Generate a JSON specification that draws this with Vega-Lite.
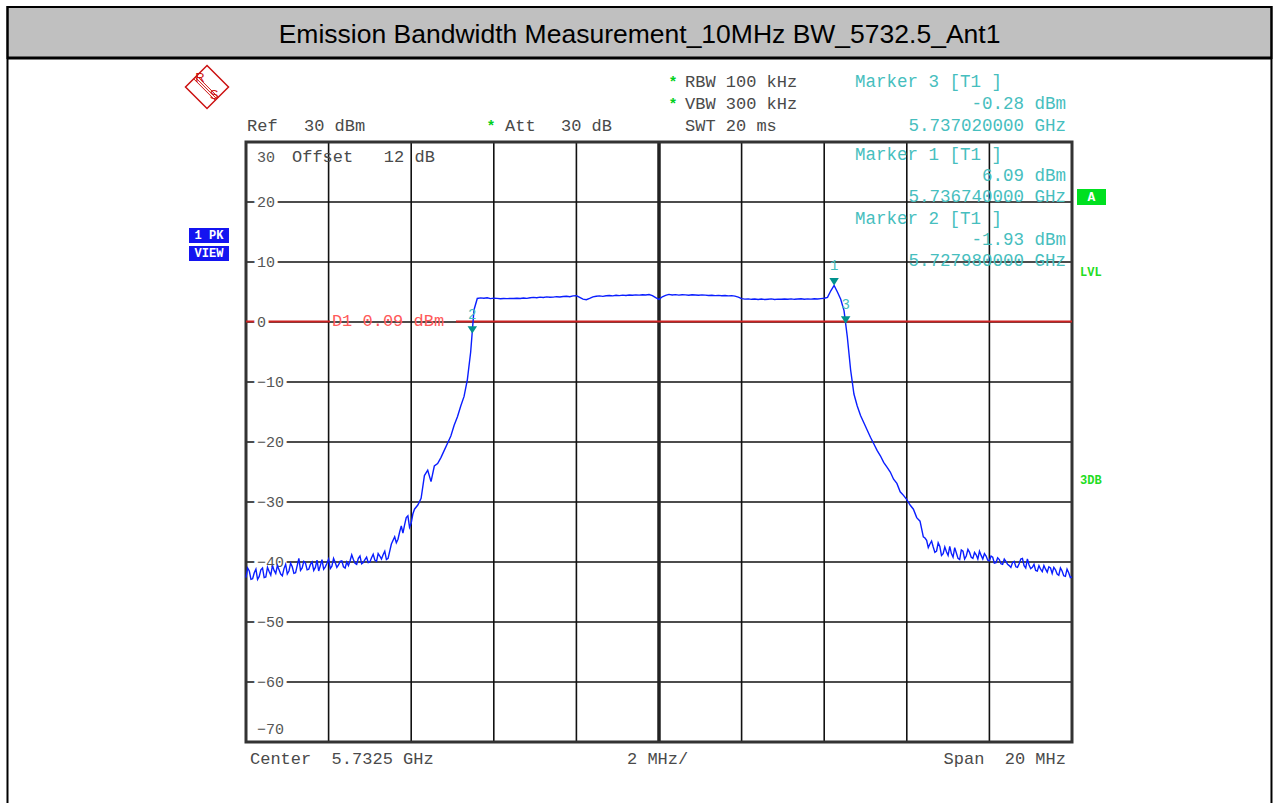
{
  "$schema": "https://vega.github.io/schema/vega-lite/v6.json",
  "width": 826,
  "height": 600,
  "autosize": {"type": "none"},
  "padding": {"left": 246, "top": 142, "right": 207, "bottom": 61},
  "background": "white",
  "config": {"view": {"stroke": null}, "axis": {"disable": true}, "font": "Liberation Mono"},
  "datasets": {
    "one": [{}],
    "trace": [
      {"f":5722.50,"p":-42.6},{"f":5722.58,"p":-41.5},{"f":5722.66,"p":-42.8},{"f":5722.74,"p":-41.2},{"f":5722.82,"p":-42.4},
      {"f":5722.90,"p":-41.0},{"f":5722.98,"p":-42.5},{"f":5723.06,"p":-41.6},{"f":5723.14,"p":-40.6},{"f":5723.22,"p":-41.9},
      {"f":5723.30,"p":-41.3},{"f":5723.38,"p":-42.3},{"f":5723.46,"p":-40.4},{"f":5723.54,"p":-41.5},{"f":5723.62,"p":-40.8},
      {"f":5723.70,"p":-41.8},{"f":5723.78,"p":-39.4},{"f":5723.86,"p":-41.0},{"f":5723.94,"p":-40.2},{"f":5724.02,"p":-41.2},
      {"f":5724.10,"p":-40.0},{"f":5724.18,"p":-40.9},{"f":5724.26,"p":-41.5},{"f":5724.34,"p":-39.6},{"f":5724.42,"p":-40.8},
      {"f":5724.50,"p":-39.5},{"f":5724.58,"p":-40.7},{"f":5724.66,"p":-40.1},{"f":5724.74,"p":-40.5},{"f":5724.82,"p":-39.8},
      {"f":5724.90,"p":-41.0},{"f":5724.98,"p":-40.6},{"f":5725.06,"p":-38.8},{"f":5725.14,"p":-40.2},{"f":5725.22,"p":-39.4},
      {"f":5725.30,"p":-40.3},{"f":5725.38,"p":-39.6},{"f":5725.46,"p":-40.1},{"f":5725.54,"p":-39.3},{"f":5725.62,"p":-39.7},
      {"f":5725.70,"p":-38.6},{"f":5725.78,"p":-39.5},{"f":5725.86,"p":-38.2},{"f":5725.94,"p":-39.4},{"f":5726.02,"p":-37.0},
      {"f":5726.10,"p":-35.8},{"f":5726.18,"p":-36.2},{"f":5726.26,"p":-34.0},{"f":5726.34,"p":-33.8},{"f":5726.42,"p":-32.3},
      {"f":5726.50,"p":-33.5},{"f":5726.58,"p":-31.2},{"f":5726.66,"p":-30.5},{"f":5726.74,"p":-29.4},{"f":5726.82,"p":-25.6},
      {"f":5726.90,"p":-24.7},{"f":5726.98,"p":-26.6},{"f":5727.06,"p":-24.0},{"f":5727.14,"p":-23.6},{"f":5727.22,"p":-22.6},
      {"f":5727.30,"p":-21.4},{"f":5727.38,"p":-20.2},{"f":5727.46,"p":-19.0},{"f":5727.54,"p":-17.2},{"f":5727.62,"p":-15.8},
      {"f":5727.70,"p":-14.0},{"f":5727.78,"p":-12.4},{"f":5727.86,"p":-9.6},{"f":5727.94,"p":-5.0},{"f":5728.02,"p":2.0},
      {"f":5728.10,"p":3.92},{"f":5728.18,"p":4.02},{"f":5728.26,"p":3.95},{"f":5728.34,"p":4.03},{"f":5728.42,"p":3.90},
      {"f":5728.50,"p":3.97},{"f":5728.58,"p":3.93},{"f":5728.66,"p":3.88},{"f":5728.74,"p":3.92},{"f":5728.82,"p":3.90},
      {"f":5728.90,"p":3.93},{"f":5728.98,"p":3.91},{"f":5729.06,"p":3.95},{"f":5729.14,"p":3.92},{"f":5729.22,"p":4.00},
      {"f":5729.30,"p":3.94},{"f":5729.38,"p":4.05},{"f":5729.46,"p":4.10},{"f":5729.54,"p":4.04},{"f":5729.62,"p":4.14},
      {"f":5729.70,"p":4.08},{"f":5729.78,"p":4.18},{"f":5729.86,"p":4.12},{"f":5729.94,"p":4.15},{"f":5730.02,"p":4.22},
      {"f":5730.10,"p":4.16},{"f":5730.18,"p":4.25},{"f":5730.26,"p":4.30},{"f":5730.34,"p":4.22},{"f":5730.42,"p":4.35},
      {"f":5730.50,"p":4.38},{"f":5730.58,"p":4.10},{"f":5730.66,"p":3.80},{"f":5730.74,"p":3.72},{"f":5730.82,"p":3.95},
      {"f":5730.90,"p":4.20},{"f":5730.98,"p":4.30},{"f":5731.06,"p":4.35},{"f":5731.14,"p":4.28},{"f":5731.22,"p":4.38},
      {"f":5731.30,"p":4.42},{"f":5731.38,"p":4.35},{"f":5731.46,"p":4.45},{"f":5731.54,"p":4.40},{"f":5731.62,"p":4.48},
      {"f":5731.70,"p":4.42},{"f":5731.78,"p":4.50},{"f":5731.86,"p":4.46},{"f":5731.94,"p":4.52},{"f":5732.02,"p":4.48},
      {"f":5732.10,"p":4.55},{"f":5732.18,"p":4.50},{"f":5732.26,"p":4.58},{"f":5732.34,"p":4.40},{"f":5732.42,"p":4.05},
      {"f":5732.50,"p":3.78},{"f":5732.58,"p":4.20},{"f":5732.66,"p":4.45},{"f":5732.74,"p":4.60},{"f":5732.82,"p":4.50},
      {"f":5732.90,"p":4.56},{"f":5732.98,"p":4.48},{"f":5733.06,"p":4.55},{"f":5733.14,"p":4.52},{"f":5733.22,"p":4.46},
      {"f":5733.30,"p":4.54},{"f":5733.38,"p":4.50},{"f":5733.46,"p":4.45},{"f":5733.54,"p":4.52},{"f":5733.62,"p":4.48},
      {"f":5733.70,"p":4.42},{"f":5733.78,"p":4.46},{"f":5733.86,"p":4.40},{"f":5733.94,"p":4.44},{"f":5734.02,"p":4.38},
      {"f":5734.10,"p":4.42},{"f":5734.18,"p":4.36},{"f":5734.26,"p":4.40},{"f":5734.34,"p":4.32},{"f":5734.42,"p":4.15},
      {"f":5734.50,"p":3.90},{"f":5734.58,"p":3.82},{"f":5734.66,"p":3.86},{"f":5734.74,"p":3.78},{"f":5734.82,"p":3.84},
      {"f":5734.90,"p":3.76},{"f":5734.98,"p":3.82},{"f":5735.06,"p":3.74},{"f":5735.14,"p":3.80},{"f":5735.22,"p":3.85},
      {"f":5735.30,"p":3.76},{"f":5735.38,"p":3.82},{"f":5735.46,"p":3.78},{"f":5735.54,"p":3.84},{"f":5735.62,"p":3.80},
      {"f":5735.70,"p":3.86},{"f":5735.78,"p":3.78},{"f":5735.86,"p":3.83},{"f":5735.94,"p":3.88},{"f":5736.02,"p":3.80},
      {"f":5736.10,"p":3.86},{"f":5736.18,"p":3.82},{"f":5736.26,"p":3.88},{"f":5736.34,"p":3.84},{"f":5736.42,"p":3.90},
      {"f":5736.50,"p":3.95},{"f":5736.58,"p":4.10},{"f":5736.66,"p":5.20},{"f":5736.74,"p":6.09},{"f":5736.82,"p":5.00},
      {"f":5736.90,"p":3.80},{"f":5736.98,"p":1.90},{"f":5737.06,"p":-2.50},{"f":5737.14,"p":-8.0},{"f":5737.22,"p":-12.0},
      {"f":5737.30,"p":-14.0},{"f":5737.38,"p":-15.6},{"f":5737.46,"p":-16.8},{"f":5737.54,"p":-18.0},{"f":5737.62,"p":-19.2},
      {"f":5737.70,"p":-20.3},{"f":5737.78,"p":-21.4},{"f":5737.86,"p":-22.3},{"f":5737.94,"p":-23.4},{"f":5738.02,"p":-24.2},
      {"f":5738.10,"p":-25.0},{"f":5738.18,"p":-26.2},{"f":5738.26,"p":-26.9},{"f":5738.34,"p":-28.3},{"f":5738.42,"p":-28.9},
      {"f":5738.50,"p":-29.6},{"f":5738.58,"p":-30.5},{"f":5738.66,"p":-31.2},{"f":5738.74,"p":-32.6},{"f":5738.82,"p":-33.2},
      {"f":5738.90,"p":-35.8},{"f":5738.98,"p":-36.4},{"f":5739.06,"p":-37.0},{"f":5739.14,"p":-37.5},{"f":5739.22,"p":-38.2},
      {"f":5739.30,"p":-37.4},{"f":5739.38,"p":-38.6},{"f":5739.46,"p":-38.3},{"f":5739.54,"p":-37.4},{"f":5739.62,"p":-39.2},
      {"f":5739.70,"p":-38.5},{"f":5739.78,"p":-39.6},{"f":5739.86,"p":-38.2},{"f":5739.94,"p":-39.0},{"f":5740.02,"p":-38.4},
      {"f":5740.10,"p":-39.4},{"f":5740.18,"p":-38.8},{"f":5740.26,"p":-38.2},{"f":5740.34,"p":-39.5},{"f":5740.42,"p":-39.0},
      {"f":5740.50,"p":-39.8},{"f":5740.58,"p":-39.2},{"f":5740.66,"p":-40.1},{"f":5740.74,"p":-39.6},{"f":5740.82,"p":-40.4},
      {"f":5740.90,"p":-39.9},{"f":5740.98,"p":-40.6},{"f":5741.06,"p":-40.1},{"f":5741.14,"p":-40.8},{"f":5741.22,"p":-40.3},
      {"f":5741.30,"p":-39.4},{"f":5741.38,"p":-41.0},{"f":5741.46,"p":-40.5},{"f":5741.54,"p":-40.9},{"f":5741.62,"p":-41.4},
      {"f":5741.70,"p":-40.6},{"f":5741.78,"p":-41.6},{"f":5741.86,"p":-41.2},{"f":5741.94,"p":-40.8},{"f":5742.02,"p":-41.9},
      {"f":5742.10,"p":-41.3},{"f":5742.18,"p":-42.2},{"f":5742.26,"p":-41.5},{"f":5742.34,"p":-42.4},{"f":5742.42,"p":-41.8},
      {"f":5742.50,"p":-42.5},
      {"f":5722.54,"p":-41.0},{"f":5722.62,"p":-42.9},{"f":5722.70,"p":-41.8},{"f":5722.78,"p":-42.9},{"f":5722.86,"p":-41.3},
      {"f":5722.94,"p":-42.6},{"f":5723.02,"p":-40.9},{"f":5723.10,"p":-42.2},{"f":5723.18,"p":-41.4},{"f":5723.26,"p":-40.6},
      {"f":5723.34,"p":-42.0},{"f":5723.42,"p":-41.1},{"f":5723.50,"p":-42.0},{"f":5723.58,"p":-40.2},{"f":5723.66,"p":-41.9},
      {"f":5723.74,"p":-40.6},{"f":5723.82,"p":-41.4},{"f":5723.90,"p":-39.9},{"f":5723.98,"p":-41.3},{"f":5724.06,"p":-40.4},
      {"f":5724.14,"p":-41.4},{"f":5724.22,"p":-39.7},{"f":5724.30,"p":-40.6},{"f":5724.38,"p":-41.2},{"f":5724.46,"p":-40.2},
      {"f":5724.54,"p":-41.1},{"f":5724.62,"p":-39.4},{"f":5724.70,"p":-40.9},{"f":5724.78,"p":-39.9},{"f":5724.86,"p":-40.8},
      {"f":5724.94,"p":-40.0},{"f":5725.02,"p":-39.8},{"f":5725.10,"p":-39.6},{"f":5725.18,"p":-40.4},{"f":5725.26,"p":-39.0},
      {"f":5725.34,"p":-40.1},{"f":5725.42,"p":-39.2},{"f":5725.50,"p":-40.0},{"f":5725.58,"p":-38.7},{"f":5725.66,"p":-39.9},
      {"f":5725.74,"p":-39.0},{"f":5725.82,"p":-38.8},{"f":5725.90,"p":-39.6},{"f":5726.14,"p":-36.8},{"f":5726.22,"p":-35.0},
      {"f":5726.30,"p":-35.2},{"f":5726.38,"p":-32.6},{"f":5726.46,"p":-34.2},{"f":5726.54,"p":-32.0},
      {"f":5738.94,"p":-36.0},{"f":5739.02,"p":-37.6},{"f":5739.10,"p":-36.5},{"f":5739.18,"p":-38.4},{"f":5739.26,"p":-36.8},
      {"f":5739.34,"p":-38.9},{"f":5739.42,"p":-37.5},{"f":5739.50,"p":-38.9},{"f":5739.58,"p":-38.6},{"f":5739.66,"p":-37.6},
      {"f":5739.74,"p":-39.4},{"f":5739.82,"p":-38.0},{"f":5739.90,"p":-39.5},{"f":5739.98,"p":-37.9},{"f":5740.06,"p":-39.2},
      {"f":5740.14,"p":-38.4},{"f":5740.22,"p":-39.5},{"f":5740.30,"p":-38.9},{"f":5740.38,"p":-38.6},{"f":5740.46,"p":-39.7},
      {"f":5740.54,"p":-39.0},{"f":5740.62,"p":-40.2},{"f":5740.70,"p":-39.3},{"f":5740.78,"p":-40.3},{"f":5740.86,"p":-39.5},
      {"f":5740.94,"p":-40.4},{"f":5741.02,"p":-40.9},{"f":5741.10,"p":-39.9},{"f":5741.18,"p":-40.9},{"f":5741.26,"p":-39.5},
      {"f":5741.34,"p":-40.6},{"f":5741.42,"p":-39.5},{"f":5741.50,"p":-41.1},{"f":5741.58,"p":-40.4},{"f":5741.66,"p":-41.5},
      {"f":5741.74,"p":-41.2},{"f":5741.82,"p":-40.6},{"f":5741.90,"p":-41.7},{"f":5741.98,"p":-41.0},{"f":5742.06,"p":-40.9},
      {"f":5742.14,"p":-42.0},{"f":5742.22,"p":-41.0},{"f":5742.30,"p":-42.3},{"f":5742.38,"p":-41.2},{"f":5742.46,"p":-42.6}
    ],
    "markers": [
      {"f":5736.74,"p":6.09,"n":"1"},
      {"f":5727.98,"p":-1.93,"n":"2"},
      {"f":5737.02,"p":-0.28,"n":"3"}
    ],
    "gridX": [{"f":5724.5},{"f":5726.5},{"f":5728.5},{"f":5730.5},{"f":5734.5},{"f":5736.5},{"f":5738.5},{"f":5740.5}],
    "gridY": [{"p":20},{"p":10},{"p":0},{"p":-10},{"p":-20},{"p":-30},{"p":-40},{"p":-50},{"p":-60}],
    "ylab": [
      {"f":5722.766,"p":20,"t":"20"},{"f":5722.766,"p":10,"t":"10"},{"f":5722.766,"p":0,"t":"0"},
      {"f":5722.766,"p":-10,"t":"−10"},{"f":5722.766,"p":-20,"t":"−20"},{"f":5722.766,"p":-30,"t":"−30"},
      {"f":5722.766,"p":-40,"t":"−40"},{"f":5722.766,"p":-50,"t":"−50"},{"f":5722.766,"p":-60,"t":"−60"}
    ],
    "edgeLab": [
      {"f":5722.766,"p":27.5,"t":"30"},
      {"f":5722.766,"p":-67.8,"t":"−70"}
    ],
    "infoLeft": [
      {"f":5722.524,"p":32.667,"t":"Ref"},
      {"f":5723.904,"p":32.667,"t":"30 dBm"},
      {"f":5728.771,"p":32.667,"t":"Att"},
      {"f":5730.127,"p":32.667,"t":"30 dB"},
      {"f":5733.129,"p":40.0,"t":"RBW 100 kHz"},
      {"f":5733.129,"p":36.333,"t":"VBW 300 kHz"},
      {"f":5733.129,"p":32.667,"t":"SWT 20 ms"},
      {"f":5723.614,"p":27.5,"t":"Offset\u00a0\u00a0\u00a012 dB"},
      {"f":5722.597,"p":-72.833,"t":"Center\u00a0\u00a05.7325 GHz"},
      {"f":5731.725,"p":-72.833,"t":"2 MHz/"}
    ],
    "infoRight": [
      {"f":5742.354,"p":-72.833,"t":"Span\u00a0\u00a020 MHz"}
    ],
    "stars": [
      {"f":5732.911,"p":40.0,"t":"*"},
      {"f":5732.911,"p":36.333,"t":"*"},
      {"f":5728.505,"p":32.667,"t":"*"}
    ],
    "mkLeft": [
      {"f":5737.246,"p":40.0,"t":"Marker 3 [T1 ]"},
      {"f":5737.246,"p":27.833,"t":"Marker 1 [T1 ]"},
      {"f":5737.246,"p":17.167,"t":"Marker 2 [T1 ]"}
    ],
    "mkRight": [
      {"f":5742.354,"p":36.333,"t":"-0.28 dBm"},
      {"f":5742.354,"p":32.667,"t":"5.737020000 GHz"},
      {"f":5742.354,"p":24.333,"t":"6.09 dBm"},
      {"f":5742.354,"p":20.833,"t":"5.736740000 GHz"},
      {"f":5742.354,"p":13.667,"t":"-1.93 dBm"},
      {"f":5742.354,"p":10.167,"t":"5.727980000 GHz"}
    ],
    "greenLab": [
      {"f":5742.694,"p":8.333,"t":"LVL"},
      {"f":5742.694,"p":-26.333,"t":"3DB"}
    ],
    "blueBox": [
      {"f":5721.12,"f2":5722.088,"p":15.667,"p2":13.167,"fc":5721.604,"pc":14.417,"t":"1 PK"},
      {"f":5721.12,"f2":5722.088,"p":12.667,"p2":10.167,"fc":5721.604,"pc":11.417,"t":"VIEW"}
    ]
  },
  "layer": [
    {
      "data": {"name": "one"},
      "mark": {"type": "rect", "fill": "#c0c0c0", "stroke": "#000000", "strokeWidth": 2},
      "encoding": {
        "x": {"datum": 5716.725, "type": "quantitative"},
        "x2": {"datum": 5747.33},
        "y": {"datum": 52.5, "type": "quantitative"},
        "y2": {"datum": 44.0}
      }
    },
    {
      "data": {"name": "one"},
      "mark": {"type": "rect", "filled": false, "fill": null, "stroke": "#000000", "strokeWidth": 2},
      "encoding": {
        "x": {"datum": 5716.725, "type": "quantitative"},
        "x2": {"datum": 5747.33},
        "y": {"datum": 52.5, "type": "quantitative"},
        "y2": {"datum": -82}
      }
    },
    {
      "data": {"name": "one"},
      "mark": {"type": "rule", "stroke": "#000000", "strokeWidth": 3},
      "encoding": {
        "x": {"datum": 5716.725, "type": "quantitative"},
        "x2": {"datum": 5747.33},
        "y": {"datum": 44.0, "type": "quantitative"}
      }
    },
    {
      "data": {"name": "one"},
      "mark": {"type": "text", "font": "Liberation Sans", "fontSize": 26.5, "align": "center", "baseline": "middle", "fill": "#000000"},
      "encoding": {
        "x": {"datum": 5732.028, "type": "quantitative"},
        "y": {"datum": 47.833, "type": "quantitative"},
        "text": {"value": "Emission Bandwidth Measurement_10MHz BW_5732.5_Ant1"}
      }
    },
    {
      "data": {"name": "gridX"},
      "mark": {"type": "rule", "stroke": "#111111", "strokeWidth": 1.6},
      "encoding": {
        "x": {"field": "f", "type": "quantitative", "scale": {"domain": [5722.5, 5742.5], "nice": false, "zero": false}}
      }
    },
    {
      "data": {"name": "gridY"},
      "mark": {"type": "rule", "stroke": "#111111", "strokeWidth": 1.6},
      "encoding": {
        "y": {"field": "p", "type": "quantitative", "scale": {"domain": [-70, 30], "nice": false, "zero": false}}
      }
    },
    {
      "data": {"name": "one"},
      "mark": {"type": "rule", "stroke": "#222222", "strokeWidth": 3.5},
      "encoding": {"x": {"datum": 5732.5, "type": "quantitative"}}
    },
    {
      "data": {"name": "one"},
      "mark": {"type": "rect", "filled": false, "fill": null, "stroke": "#333333", "strokeWidth": 3},
      "encoding": {
        "x": {"datum": 5722.5, "type": "quantitative"},
        "x2": {"datum": 5742.5},
        "y": {"datum": 30, "type": "quantitative"},
        "y2": {"datum": -70}
      }
    },
    {
      "data": {"name": "one"},
      "mark": {"type": "rule", "stroke": "#cc2222", "strokeWidth": 2},
      "encoding": {
        "x": {"datum": 5722.5, "type": "quantitative"},
        "x2": {"datum": 5724.534},
        "y": {"datum": 0.09, "type": "quantitative"}
      }
    },
    {
      "data": {"name": "one"},
      "mark": {"type": "rule", "stroke": "#cc2222", "strokeWidth": 2},
      "encoding": {
        "x": {"datum": 5727.585, "type": "quantitative"},
        "x2": {"datum": 5742.5},
        "y": {"datum": 0.09, "type": "quantitative"}
      }
    },
    {
      "data": {"name": "ylab"},
      "mark": {"type": "text", "align": "left", "baseline": "middle", "fontSize": 15, "fill": "white", "stroke": "white", "strokeWidth": 7},
      "encoding": {
        "x": {"field": "f", "type": "quantitative"},
        "y": {"field": "p", "type": "quantitative"},
        "text": {"field": "t"}
      }
    },
    {
      "data": {"name": "ylab"},
      "mark": {"type": "text", "align": "left", "baseline": "middle", "fontSize": 15, "fill": "#555555"},
      "encoding": {
        "x": {"field": "f", "type": "quantitative"},
        "y": {"field": "p", "type": "quantitative"},
        "text": {"field": "t"}
      }
    },
    {
      "data": {"name": "edgeLab"},
      "mark": {"type": "text", "align": "left", "baseline": "middle", "fontSize": 15, "fill": "#555555"},
      "encoding": {
        "x": {"field": "f", "type": "quantitative"},
        "y": {"field": "p", "type": "quantitative"},
        "text": {"field": "t"}
      }
    },
    {
      "data": {"name": "trace"},
      "mark": {"type": "line", "stroke": "#0a1eff", "strokeWidth": 1.4},
      "encoding": {
        "x": {"field": "f", "type": "quantitative", "sort": "ascending", "scale": {"domain": [5722.5, 5742.5], "nice": false, "zero": false}},
        "y": {"field": "p", "type": "quantitative", "scale": {"domain": [-70, 30], "nice": false, "zero": false}},
        "order": {"field": "f", "type": "quantitative"}
      }
    },
    {
      "data": {"name": "markers"},
      "mark": {"type": "point", "shape": "M-1,-1.55L1,-1.55L0,0Z", "size": 90, "filled": true, "fill": "#00928e", "opacity": 1, "strokeWidth": 0},
      "encoding": {
        "x": {"field": "f", "type": "quantitative"},
        "y": {"field": "p", "type": "quantitative"}
      }
    },
    {
      "data": {"name": "markers"},
      "mark": {"type": "text", "align": "center", "baseline": "middle", "fontSize": 14, "dy": -19, "fill": "#44bcbc"},
      "encoding": {
        "x": {"field": "f", "type": "quantitative"},
        "y": {"field": "p", "type": "quantitative"},
        "text": {"field": "n"}
      }
    },
    {
      "data": {"name": "infoLeft"},
      "mark": {"type": "text", "align": "left", "baseline": "middle", "fontSize": 17, "fill": "#4a4a4a"},
      "encoding": {
        "x": {"field": "f", "type": "quantitative"},
        "y": {"field": "p", "type": "quantitative"},
        "text": {"field": "t"}
      }
    },
    {
      "data": {"name": "infoRight"},
      "mark": {"type": "text", "align": "right", "baseline": "middle", "fontSize": 17, "fill": "#4a4a4a"},
      "encoding": {
        "x": {"field": "f", "type": "quantitative"},
        "y": {"field": "p", "type": "quantitative"},
        "text": {"field": "t"}
      }
    },
    {
      "data": {"name": "stars"},
      "mark": {"type": "text", "align": "center", "baseline": "middle", "fontSize": 15, "fontWeight": "bold", "fill": "#00d020", "dx": -3},
      "encoding": {
        "x": {"field": "f", "type": "quantitative"},
        "y": {"field": "p", "type": "quantitative"},
        "text": {"field": "t"}
      }
    },
    {
      "data": {"name": "mkLeft"},
      "mark": {"type": "text", "align": "left", "baseline": "middle", "fontSize": 17.5, "fill": "#46bebe"},
      "encoding": {
        "x": {"field": "f", "type": "quantitative"},
        "y": {"field": "p", "type": "quantitative"},
        "text": {"field": "t"}
      }
    },
    {
      "data": {"name": "mkRight"},
      "mark": {"type": "text", "align": "right", "baseline": "middle", "fontSize": 17.5, "fill": "#46bebe"},
      "encoding": {
        "x": {"field": "f", "type": "quantitative"},
        "y": {"field": "p", "type": "quantitative"},
        "text": {"field": "t"}
      }
    },
    {
      "data": {"name": "one"},
      "mark": {"type": "text", "align": "left", "baseline": "middle", "fontSize": 17, "fill": "#ff5a5a"},
      "encoding": {
        "x": {"datum": 5724.58, "type": "quantitative"},
        "y": {"datum": 0.09, "type": "quantitative"},
        "text": {"value": "D1 0.09 dBm"}
      }
    },
    {
      "data": {"name": "one"},
      "mark": {"type": "rect", "fill": "#00e020"},
      "encoding": {
        "x": {"datum": 5742.621, "type": "quantitative"},
        "x2": {"datum": 5743.324},
        "y": {"datum": 22.167, "type": "quantitative"},
        "y2": {"datum": 19.5}
      }
    },
    {
      "data": {"name": "one"},
      "mark": {"type": "text", "align": "center", "baseline": "middle", "fontSize": 13, "fontWeight": "bold", "fill": "white"},
      "encoding": {
        "x": {"datum": 5742.972, "type": "quantitative"},
        "y": {"datum": 20.833, "type": "quantitative"},
        "text": {"value": "A"}
      }
    },
    {
      "data": {"name": "greenLab"},
      "mark": {"type": "text", "align": "left", "baseline": "middle", "fontSize": 12, "fontWeight": "bold", "fill": "#22dd22"},
      "encoding": {
        "x": {"field": "f", "type": "quantitative"},
        "y": {"field": "p", "type": "quantitative"},
        "text": {"field": "t"}
      }
    },
    {
      "data": {"name": "blueBox"},
      "mark": {"type": "rect", "fill": "#1414f0"},
      "encoding": {
        "x": {"field": "f", "type": "quantitative"},
        "x2": {"field": "f2"},
        "y": {"field": "p", "type": "quantitative"},
        "y2": {"field": "p2"}
      }
    },
    {
      "data": {"name": "blueBox"},
      "mark": {"type": "text", "align": "center", "baseline": "middle", "fontSize": 12, "fontWeight": "bold", "fill": "white"},
      "encoding": {
        "x": {"field": "fc", "type": "quantitative"},
        "y": {"field": "pc", "type": "quantitative"},
        "text": {"field": "t"}
      }
    },
    {
      "data": {"name": "one"},
      "mark": {"type": "point", "shape": "M0,-1L1,0L0,1L-1,0Z", "size": 1849, "filled": false, "stroke": "#cc1111", "strokeWidth": 1.5, "opacity": 1},
      "encoding": {
        "x": {"datum": 5721.556, "type": "quantitative"},
        "y": {"datum": 39.167, "type": "quantitative"}
      }
    },
    {
      "data": {"name": "one"},
      "mark": {"type": "point", "shape": "M-0.62,-0.38L0.38,0.62M-0.55,-0.45L0.45,0.55M-0.48,-0.52L0.52,0.48", "size": 1849, "filled": false, "stroke": "#cc1111", "strokeWidth": 1, "opacity": 1},
      "encoding": {
        "x": {"datum": 5721.556, "type": "quantitative"},
        "y": {"datum": 39.167, "type": "quantitative"}
      }
    },
    {
      "data": {"name": "one"},
      "mark": {"type": "text", "font": "Liberation Sans", "fontSize": 13, "align": "center", "baseline": "middle", "fill": "#cc1111"},
      "encoding": {
        "x": {"datum": 5721.386, "type": "quantitative"},
        "y": {"datum": 40.667, "type": "quantitative"},
        "text": {"value": "R"}
      }
    },
    {
      "data": {"name": "one"},
      "mark": {"type": "text", "font": "Liberation Sans", "fontSize": 13, "align": "center", "baseline": "middle", "fill": "#cc1111"},
      "encoding": {
        "x": {"datum": 5721.73, "type": "quantitative"},
        "y": {"datum": 37.833, "type": "quantitative"},
        "text": {"value": "S"}
      }
    }
  ]
}
